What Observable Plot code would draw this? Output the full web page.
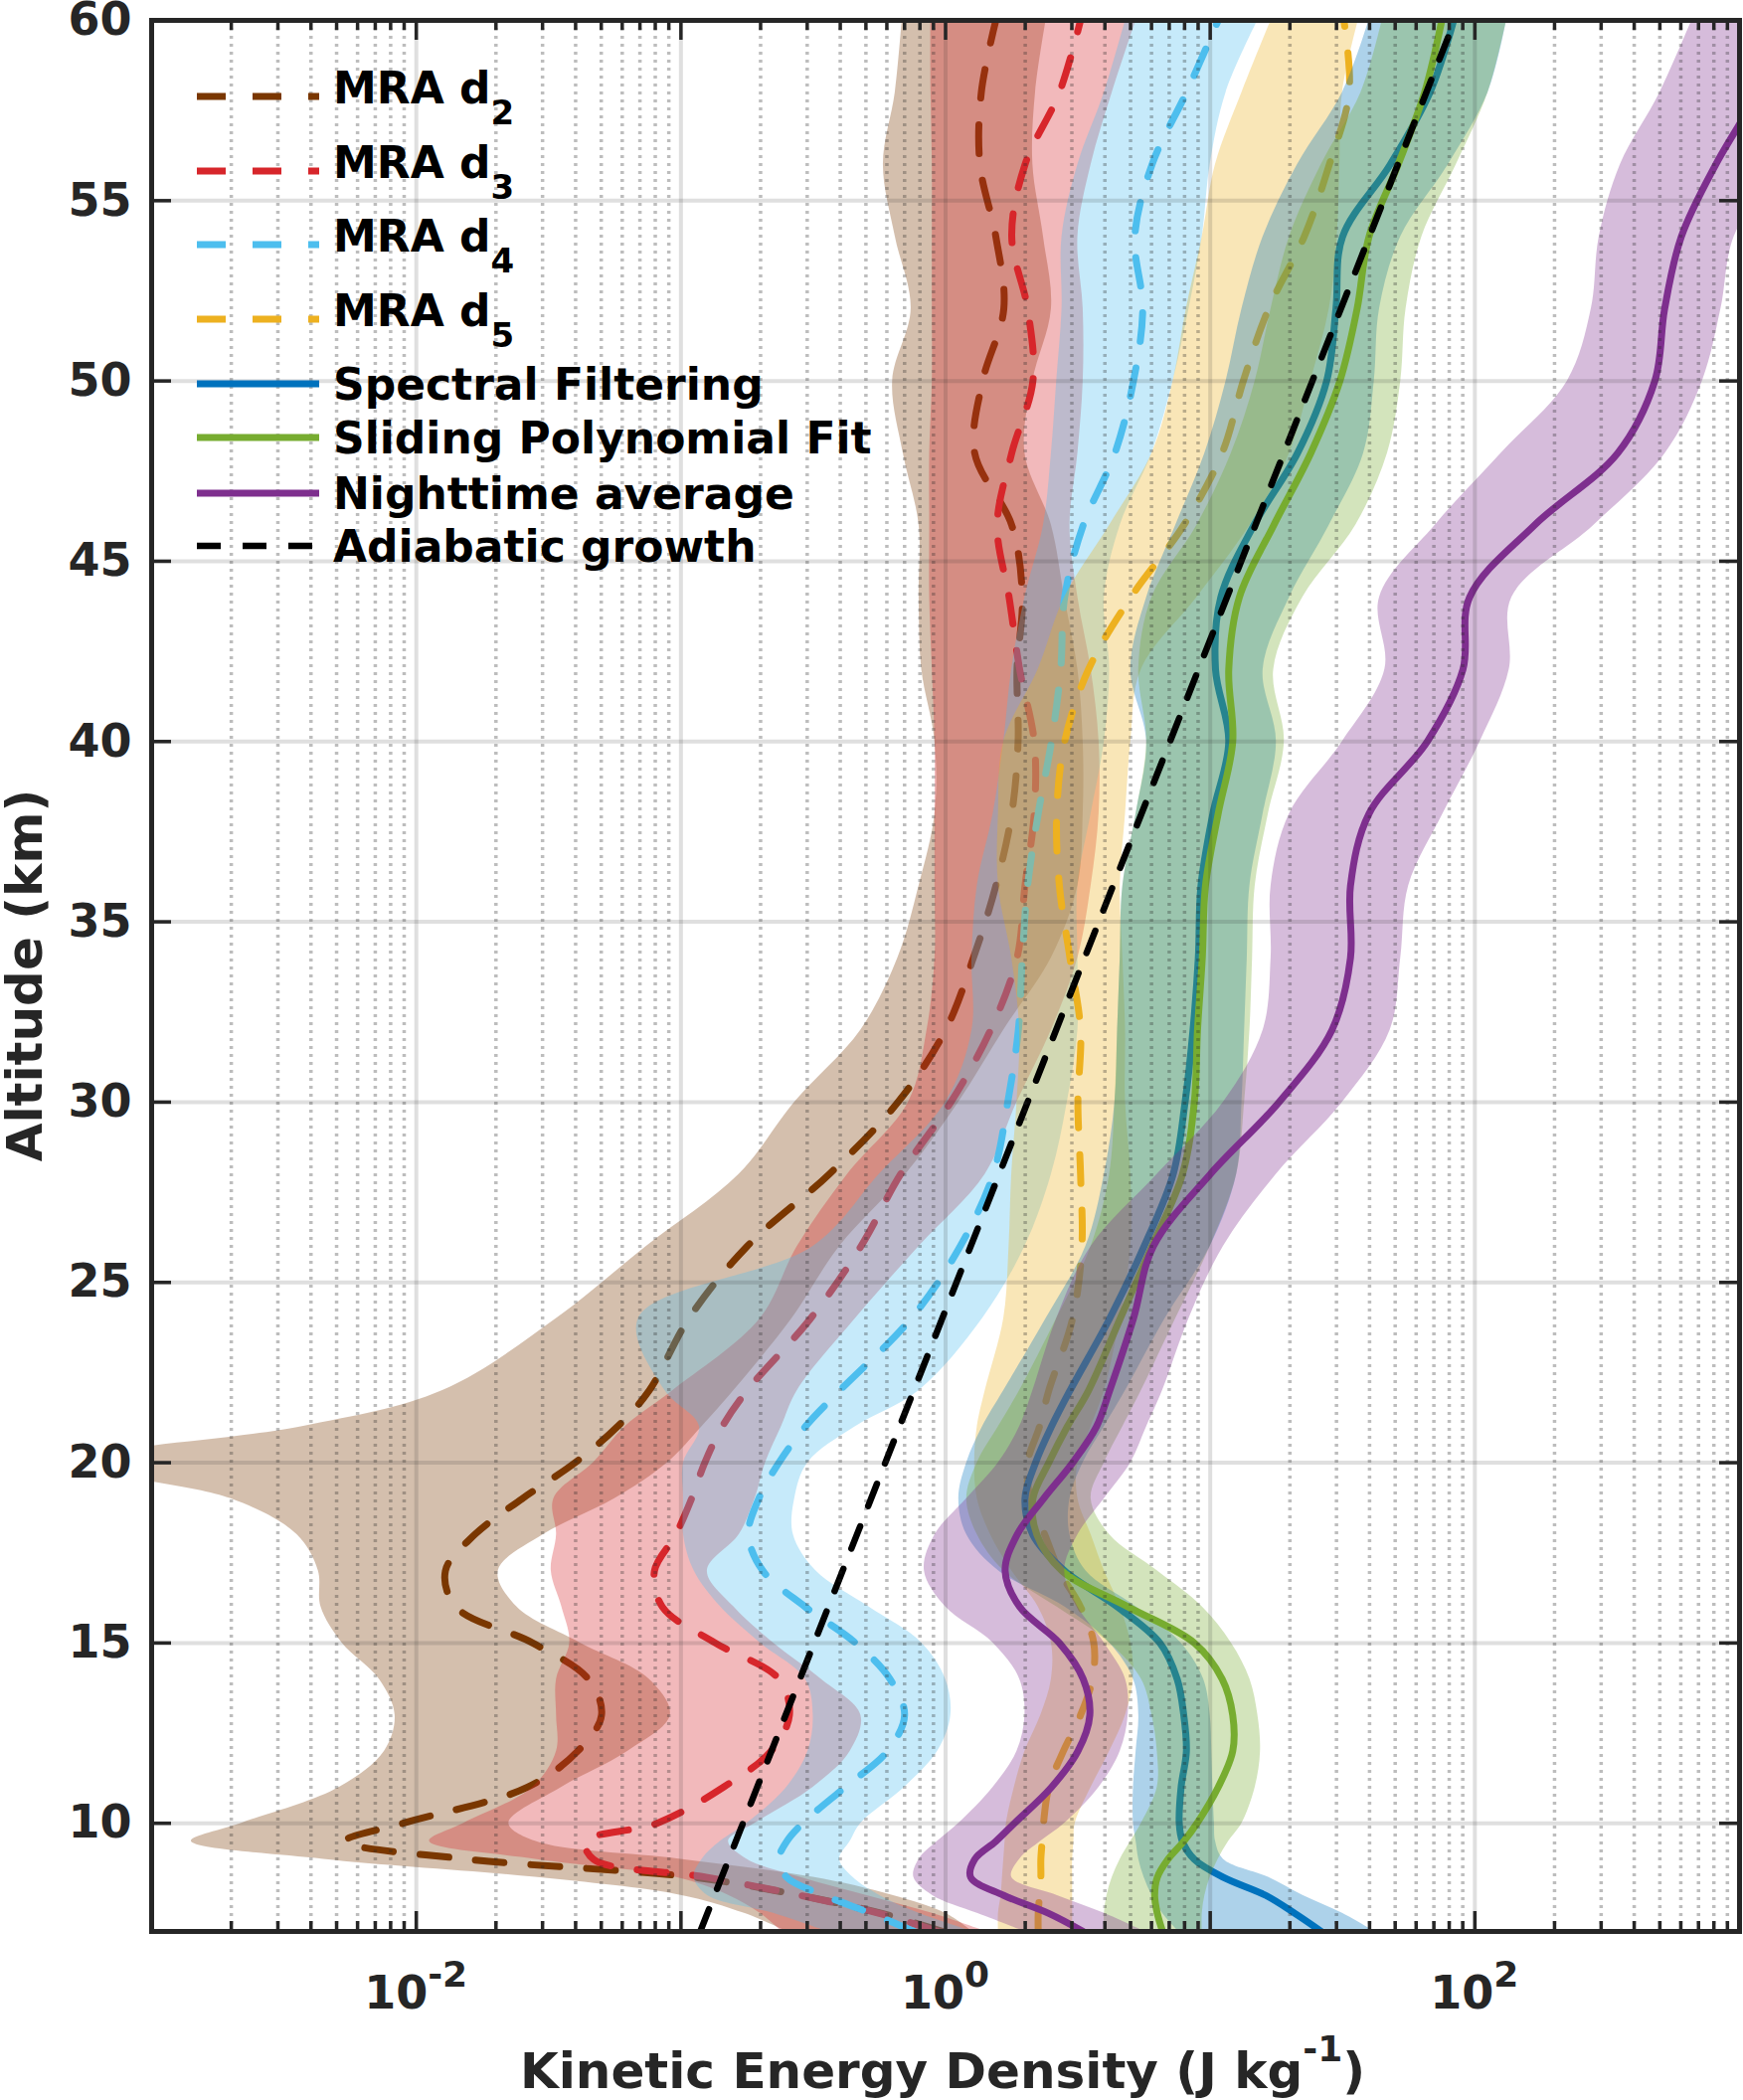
<!DOCTYPE html>
<html>
<head>
<meta charset="utf-8">
<script src="https://cdn.jsdelivr.net/npm/d3@7"></script>
<script src="https://cdn.jsdelivr.net/npm/@observablehq/plot@0.6"></script>
<style>
  html, body { margin: 0; padding: 0; background: #fff; }
</style>
</head>
<body>
<div id="chart"></div>
<script>
// Altitude grid (km)
const altitude = [7, 7.5, 8, 8.5, 9, 9.5, 10, 11, 12, 13, 14, 15, 16, 17, 18, 19, 20, 21, 22,
  24, 26, 28, 30, 32, 34, 36, 38, 40, 42, 44, 46, 48, 50, 52, 54, 56, 58, 60];

// All values are log10 of kinetic energy density (J/kg).
// MRA d2
const mraD2Log   = [-0.01, -0.24, -0.55, -0.95, -1.80, -2.27, -2.05, -1.58, -1.39, -1.30, -1.35, -1.56, -1.85, -1.89, -1.78, -1.60, -1.40, -1.24, -1.12,
  -0.97, -0.75, -0.44, -0.18, 0.0, 0.105, 0.19, 0.25, 0.274, 0.27, 0.29, 0.25, 0.11, 0.14, 0.22, 0.19, 0.13, 0.135, 0.19];
const mraD2LoLog = [-0.60, -0.76, -1.0, -1.55, -2.35, -2.85, -2.66, -2.29, -2.12, -2.08, -2.14, -2.28, -2.36, -2.37, -2.45, -2.70, -3.3, -2.43, -1.9,
  -1.47, -1.13, -0.78, -0.57, -0.32, -0.18, -0.10, -0.04, -0.04, -0.09, -0.10, -0.10, -0.16, -0.20, -0.13, -0.19, -0.235, -0.19, -0.164];
const mraD2HiLog = [0.10, 0.0, -0.2, -0.5, -1.0, -1.55, -1.65, -1.45, -1.2, -1.04, -1.12, -1.38, -1.62, -1.69, -1.52, -1.25, -1.05, -0.92, -0.80,
  -0.58, -0.40, -0.15, 0.05, 0.22, 0.40, 0.50, 0.52, 0.52, 0.50, 0.45, 0.40, 0.30, 0.33, 0.40, 0.37, 0.33, 0.34, 0.38];

// MRA d3
const mraD3Log   = [-0.03, -0.25, -0.55, -0.90, -1.33, -1.36, -1.09, -0.84, -0.66, -0.59, -0.63, -0.87, -1.07, -1.10, -1.02, -0.96, -0.91, -0.844, -0.75,
  -0.51, -0.32, -0.17, 0.02, 0.17, 0.27, 0.30, 0.335, 0.335, 0.28, 0.24, 0.195, 0.25, 0.33, 0.31, 0.25, 0.30, 0.43, 0.51];
const mraD3LoLog = [-0.62, -0.70, -0.82, -1.02, -1.55, -1.95, -1.82, -1.56, -1.47, -1.47, -1.47, -1.42, -1.45, -1.49, -1.47, -1.48, -1.33, -1.21, -1.03,
  -0.70, -0.56, -0.37, -0.14, -0.07, -0.04, -0.04, -0.04, -0.04, -0.05, -0.06, -0.06, -0.06, -0.05, -0.05, -0.05, -0.05, -0.055, -0.056];
const mraD3HiLog = [0.15, -0.05, -0.30, -0.55, -0.75, -0.82, -0.72, -0.50, -0.36, -0.32, -0.47, -0.65, -0.80, -0.90, -0.78, -0.72, -0.68, -0.62, -0.56,
  -0.34, -0.10, 0.15, 0.27, 0.40, 0.50, 0.55, 0.58, 0.58, 0.55, 0.50, 0.47, 0.50, 0.52, 0.52, 0.50, 0.55, 0.63, 0.72];

// MRA d4
const mraD4Log   = [-0.12, -0.28, -0.46, -0.60, -0.63, -0.60, -0.54, -0.38, -0.22, -0.155, -0.21, -0.34, -0.53, -0.69, -0.745, -0.706, -0.63, -0.53, -0.40,
  -0.13, 0.055, 0.18, 0.235, 0.275, 0.29, 0.31, 0.35, 0.40, 0.435, 0.45, 0.52, 0.64, 0.71, 0.745, 0.715, 0.78, 0.91, 1.03];
const mraD4LoLog = [-0.45, -0.65, -0.90, -0.95, -0.92, -0.85, -0.75, -0.60, -0.52, -0.50, -0.53, -0.70, -0.85, -0.95, -0.99, -0.99, -0.99, -0.93, -1.06,
  -1.16, -0.50, -0.25, 0.0, 0.10, 0.10, 0.12, 0.18, 0.22, 0.25, 0.30, 0.37, 0.40, 0.42, 0.44, 0.44, 0.50, 0.60, 0.68];
const mraD4HiLog = [0.10, -0.10, -0.25, -0.35, -0.40, -0.36, -0.32, -0.155, -0.03, 0.02, 0.0, -0.09, -0.29, -0.49, -0.575, -0.57, -0.52, -0.34, -0.10,
  0.14, 0.30, 0.40, 0.46, 0.50, 0.50, 0.50, 0.55, 0.60, 0.62, 0.60, 0.66, 0.78, 0.86, 0.92, 0.97, 1.0, 1.06, 1.18];

// MRA d5
const mraD5Log   = [0.35, 0.35, 0.355, 0.36, 0.36, 0.365, 0.37, 0.39, 0.445, 0.51, 0.555, 0.56, 0.51, 0.43, 0.375, 0.32, 0.31, 0.355, 0.39,
  0.48, 0.515, 0.51, 0.50, 0.51, 0.47, 0.43, 0.42, 0.45, 0.54, 0.70, 0.90, 1.045, 1.125, 1.22, 1.355, 1.45, 1.525, 1.505];
const mraD5LoLog = [0.20, 0.20, 0.21, 0.215, 0.22, 0.225, 0.23, 0.26, 0.30, 0.36, 0.40, 0.40, 0.35, 0.25, 0.17, 0.12, 0.11, 0.12, 0.15,
  0.22, 0.24, 0.25, 0.27, 0.28, 0.25, 0.20, 0.20, 0.22, 0.35, 0.45, 0.62, 0.78, 0.86, 0.91, 0.97, 1.02, 1.12, 1.23];
const mraD5HiLog = [0.48, 0.48, 0.48, 0.48, 0.48, 0.485, 0.49, 0.55, 0.62, 0.68, 0.71, 0.70, 0.66, 0.60, 0.55, 0.50, 0.50, 0.55, 0.60,
  0.66, 0.70, 0.70, 0.68, 0.68, 0.67, 0.66, 0.68, 0.70, 0.74, 0.95, 1.15, 1.30, 1.38, 1.45, 1.48, 1.49, 1.50, 1.56];

// Spectral Filtering
const spectralLog   = [1.42, 1.32, 1.21, 1.05, 0.94, 0.895, 0.883, 0.89, 0.91, 0.90, 0.875, 0.81, 0.65, 0.45, 0.33, 0.30, 0.34, 0.40, 0.47,
  0.62, 0.75, 0.86, 0.905, 0.935, 0.955, 0.965, 1.01, 1.07, 1.02, 1.04, 1.165, 1.33, 1.44, 1.475, 1.50, 1.68, 1.83, 1.92];
const spectralLoLog = [0.88, 0.82, 0.78, 0.75, 0.73, 0.72, 0.71, 0.71, 0.72, 0.73, 0.71, 0.62, 0.45, 0.20, 0.08, 0.05, 0.08, 0.14, 0.22,
  0.38, 0.53, 0.60, 0.64, 0.65, 0.66, 0.67, 0.72, 0.76, 0.70, 0.76, 0.87, 0.98, 1.06, 1.12, 1.20, 1.33, 1.50, 1.60];
const spectralHiLog = [1.62, 1.50, 1.35, 1.22, 1.05, 1.02, 1.016, 1.01, 1.006, 1.0, 0.975, 0.89, 0.72, 0.53, 0.47, 0.47, 0.52, 0.60, 0.68,
  0.83, 1.0, 1.10, 1.12, 1.13, 1.14, 1.15, 1.20, 1.25, 1.20, 1.30, 1.45, 1.58, 1.62, 1.64, 1.72, 1.90, 2.05, 2.12];

// Sliding Polynomial Fit
const slidingLog   = [0.82, 0.80, 0.79, 0.80, 0.84, 0.90, 0.95, 1.03, 1.085, 1.085, 1.045, 0.94, 0.69, 0.44, 0.345, 0.33, 0.39, 0.46, 0.54,
  0.66, 0.78, 0.895, 0.94, 0.952, 0.97, 0.982, 1.03, 1.085, 1.07, 1.11, 1.24, 1.38, 1.49, 1.555, 1.60, 1.71, 1.81, 1.875];
const slidingLoLog = [0.60, 0.60, 0.61, 0.63, 0.66, 0.70, 0.74, 0.80, 0.80, 0.78, 0.74, 0.62, 0.42, 0.22, 0.12, 0.08, 0.12, 0.20, 0.28,
  0.42, 0.55, 0.62, 0.64, 0.65, 0.66, 0.67, 0.72, 0.76, 0.73, 0.78, 0.95, 1.08, 1.17, 1.23, 1.30, 1.42, 1.57, 1.65];
const slidingHiLog = [0.97, 0.97, 0.98, 1.0, 1.03, 1.07, 1.12, 1.17, 1.19, 1.18, 1.15, 1.08, 0.97, 0.80, 0.62, 0.55, 0.60, 0.67, 0.74,
  0.87, 1.0, 1.10, 1.13, 1.15, 1.16, 1.17, 1.22, 1.28, 1.24, 1.35, 1.55, 1.67, 1.72, 1.74, 1.80, 1.93, 2.05, 2.12];

// Nighttime average
const nightLog   = [0.52, 0.39, 0.22, 0.095, 0.11, 0.19, 0.26, 0.40, 0.50, 0.545, 0.52, 0.43, 0.28, 0.225, 0.27, 0.37, 0.48, 0.57, 0.62,
  0.71, 0.785, 1.0, 1.26, 1.46, 1.53, 1.53, 1.60, 1.82, 1.955, 1.98, 2.225, 2.54, 2.68, 2.717, 2.78, 2.91, 3.07, 3.20];
const nightLoLog = [0.30, 0.12, -0.05, -0.12, -0.10, -0.03, 0.05, 0.18, 0.27, 0.30, 0.28, 0.18, 0.0, -0.08, -0.04, 0.08, 0.20, 0.28, 0.33,
  0.42, 0.55, 0.80, 1.05, 1.20, 1.23, 1.23, 1.30, 1.50, 1.66, 1.64, 1.85, 2.10, 2.35, 2.44, 2.47, 2.55, 2.70, 2.82];
const nightHiLog = [0.75, 0.60, 0.42, 0.25, 0.28, 0.36, 0.45, 0.58, 0.66, 0.69, 0.68, 0.60, 0.50, 0.45, 0.50, 0.60, 0.70, 0.76, 0.82,
  0.92, 1.05, 1.25, 1.50, 1.68, 1.72, 1.75, 1.88, 2.02, 2.13, 2.14, 2.45, 2.72, 2.86, 2.93, 2.98, 3.15, 3.30, 3.45];

// Adiabatic growth (straight line on the log axis)
const adiabaticAltitude = [7, 30, 60];
const adiabaticLog = [-0.927, 0.31, 1.924];

// Axis ticks
const xDecades = [1e-3, 1e-2, 1e-1, 1, 10, 100, 1000];
const xLabelValues = [1e-2, 1, 1e2];
const xLabelExponents = ["-2", "0", "2"];
const yLabelValues = [10, 15, 20, 25, 30, 35, 40, 45, 50, 55, 60];

const series = [
  {label: "MRA d", sub: "2", color: "#7A3700", dash: "29,27", mid: mraD2Log, lo: mraD2LoLog, hi: mraD2HiLog},
  {label: "MRA d", sub: "3", color: "#D7262B", dash: "29,27", mid: mraD3Log, lo: mraD3LoLog, hi: mraD3HiLog},
  {label: "MRA d", sub: "4", color: "#4DBEEE", dash: "29,27", mid: mraD4Log, lo: mraD4LoLog, hi: mraD4HiLog},
  {label: "MRA d", sub: "5", color: "#EDB120", dash: "29,27", mid: mraD5Log, lo: mraD5LoLog, hi: mraD5HiLog},
  {label: "Spectral Filtering", color: "#0072BD", mid: spectralLog, lo: spectralLoLog, hi: spectralHiLog},
  {label: "Sliding Polynomial Fit", color: "#77AC30", mid: slidingLog, lo: slidingLoLog, hi: slidingHiLog},
  {label: "Nighttime average", color: "#7E2F8E", mid: nightLog, lo: nightLoLog, hi: nightHiLog}
];
const adiabatic = {label: "Adiabatic growth", color: "#000000", dash: "24,22"};

const W = 1753, H = 2112, ML = 152, MR = 4, MT = 20, MB = 170;
const plotW = W - ML - MR, plotH = H - MT - MB;

const marks = [];
for (const s of series) {
  const rows = altitude.map((alt, i) => ({alt, ke: 10 ** s.mid[i], lo: 10 ** s.lo[i], hi: 10 ** s.hi[i]}));
  marks.push(Plot.areaX(rows, {y: "alt", x1: "lo", x2: "hi", fill: s.color, fillOpacity: 0.32, curve: "catmull-rom", clip: true}));
  marks.push(Plot.lineX(rows, {y: "alt", x: "ke", stroke: s.color, strokeWidth: 7, strokeDasharray: s.dash, curve: "catmull-rom", clip: true}));
}
const adiabaticRows = adiabaticAltitude.map((alt, i) => ({alt, ke: 10 ** adiabaticLog[i]}));
marks.push(Plot.lineX(adiabaticRows, {y: "alt", x: "ke", stroke: "#000", strokeWidth: 6.5, strokeDasharray: adiabatic.dash, clip: true}));

const xMajorInner = xDecades.slice(1, -1);
const xMinor = xDecades.slice(0, -1).flatMap(d => [2, 3, 4, 5, 6, 7, 8, 9].map(m => m * d));
const yMajorInner = yLabelValues.slice(0, -1);

// grid (drawn on top, like MATLAB Layer 'top')
marks.push(Plot.ruleX(xMinor, {stroke: "#262626", strokeOpacity: 0.3, strokeWidth: 3.5, strokeDasharray: "3,5"}));
marks.push(Plot.ruleX(xMajorInner, {stroke: "#262626", strokeOpacity: 0.15, strokeWidth: 4}));
marks.push(Plot.ruleY(yMajorInner, {stroke: "#262626", strokeOpacity: 0.15, strokeWidth: 4}));
// inward ticks
const tk = {stroke: "#262626", strokeWidth: 3.5};
marks.push(Plot.ruleX(xMajorInner, {...tk, insetTop: plotH - 20}));
marks.push(Plot.ruleX(xMajorInner, {...tk, insetBottom: plotH - 20}));
marks.push(Plot.ruleX(xMinor, {...tk, insetTop: plotH - 10}));
marks.push(Plot.ruleX(xMinor, {...tk, insetBottom: plotH - 10}));
marks.push(Plot.ruleY(yMajorInner, {...tk, insetRight: plotW - 20}));
marks.push(Plot.ruleY(yMajorInner, {...tk, insetLeft: plotW - 20}));
marks.push(Plot.frame({stroke: "#262626", strokeWidth: 5}));
marks.push(Plot.axisY(yLabelValues, {anchor: "left", tickSize: 0, tickPadding: 20, label: null, fontSize: 46, fontWeight: "bold", fill: "#262626"}));

const chart = Plot.plot({
  width: W, height: H,
  marginLeft: ML, marginRight: MR, marginTop: MT, marginBottom: MB,
  style: {fontFamily: "DejaVu Sans", fontSize: "46px", fontWeight: "bold", color: "#262626", background: "#fff"},
  x: {type: "log", domain: [1e-3, 1e3], axis: null},
  y: {domain: [7, 60], axis: null},
  marks
});
document.getElementById("chart").append(chart);

const svg = d3.select(chart);
const xs = chart.scale("x");

// x tick labels with superscripts
const xl = svg.append("g").attr("font-family", "DejaVu Sans").attr("font-weight", "bold").attr("fill", "#262626").attr("text-anchor", "middle");
xLabelValues.forEach((v, i) => {
  const t = xl.append("text").attr("x", xs.apply(v)).attr("y", 2020).attr("text-anchor", "middle").attr("font-size", 46);
  t.append("tspan").text("10");
  t.append("tspan").attr("font-size", 36).attr("dy", -22).text(xLabelExponents[i]);
});

// axis titles
const xt = svg.append("text").attr("x", 948).attr("y", 2100).attr("text-anchor", "middle")
  .attr("font-family", "DejaVu Sans").attr("font-weight", "bold").attr("font-size", 50).attr("fill", "#262626");
xt.append("tspan").text("Kinetic Energy Density (J kg");
xt.append("tspan").attr("font-size", 36).attr("dy", -27).text("-1");
xt.append("tspan").attr("dy", 27).text(")");

svg.append("text").attr("transform", "translate(42,981) rotate(-90)").attr("text-anchor", "middle")
  .attr("font-family", "DejaVu Sans").attr("font-weight", "bold").attr("font-size", 50).attr("fill", "#262626")
  .text("Altitude (km)");

// legend (inside the axes, no box)
const legendY = [97, 172, 246, 321, 386, 440, 496, 549];
const lg = svg.append("g").attr("font-family", "DejaVu Sans").attr("font-weight", "bold").attr("fill", "#000").attr("text-anchor", "start");
[...series, adiabatic].forEach((s, i) => {
  const y = legendY[i];
  lg.append("line").attr("x1", 198).attr("x2", 321).attr("y1", y).attr("y2", y)
    .attr("stroke", s.color).attr("stroke-width", s === adiabatic ? 6.5 : 7)
    .attr("stroke-dasharray", s.dash || null);
  const t = lg.append("text").attr("x", 335).attr("font-size", 44).attr("text-anchor", "start");
  if (s.sub) {
    t.attr("y", y + 6.5);
    t.append("tspan").text(s.label);
    t.append("tspan").attr("font-size", 34).attr("dy", 21).text(s.sub);
  } else {
    t.attr("y", y + 16).text(s.label);
  }
});
</script>
</body>
</html>
